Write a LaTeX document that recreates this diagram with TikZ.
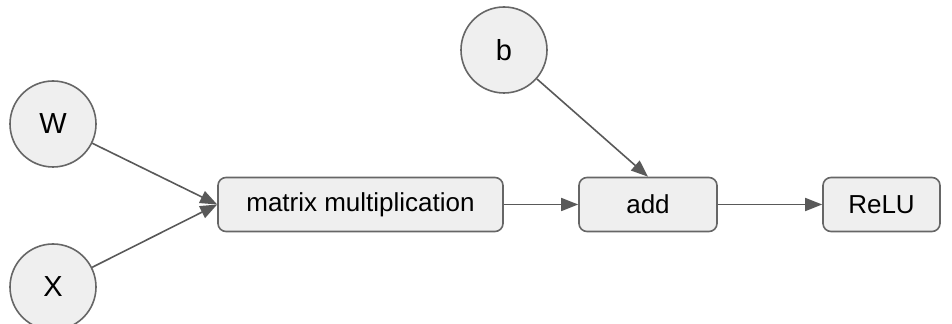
\documentclass[tikz,border=0pt]{standalone}
\usepackage{fontspec}
\setmainfont{Liberation Sans}
\usetikzlibrary{arrows.meta}
\definecolor{nodefill}{HTML}{EFEFEF}
\definecolor{nodeline}{HTML}{666666}
\definecolor{edgeline}{HTML}{595959}
\begin{document}
\begin{tikzpicture}[x=0.5pt, y=-0.5pt,
  var/.style={circle, draw=nodeline, fill=nodefill, line width=0.8pt, minimum size=43pt, inner sep=0pt, font=\fontsize{14.5}{16}\selectfont},
  op/.style={rectangle, rounded corners=4pt, draw=nodeline, fill=nodefill, line width=0.8pt, minimum height=27pt, inner sep=0pt, font=\fontsize{13}{15}\selectfont},
  flow/.style={-{Triangle[length=8.5pt, width=6.5pt]}, draw=edgeline, line width=0.8pt}]
\useasboundingbox (0,0) rectangle (952,324);
\node[var] (w) at (53,124) {W};
\node[var] (x) at (53,287) {X};
\node[var] (b) at (504,50) {b};
\node[op, minimum width=142.5pt] (matmul) at (360.5,204.5) {matrix multiplication};
\node[op, minimum width=69pt] (add) at (648,204.5) {add};
\node[op, minimum width=58.5pt] (relu) at (881.5,204.5) {ReLU};
\draw[flow] (w) -- (matmul.west);
\draw[flow] (x) -- (matmul.west);
\draw[flow] (matmul) -- (add);
\draw[flow] (b) -- (add.north);
\draw[flow] (add) -- (relu);
\end{tikzpicture}
\end{document}
